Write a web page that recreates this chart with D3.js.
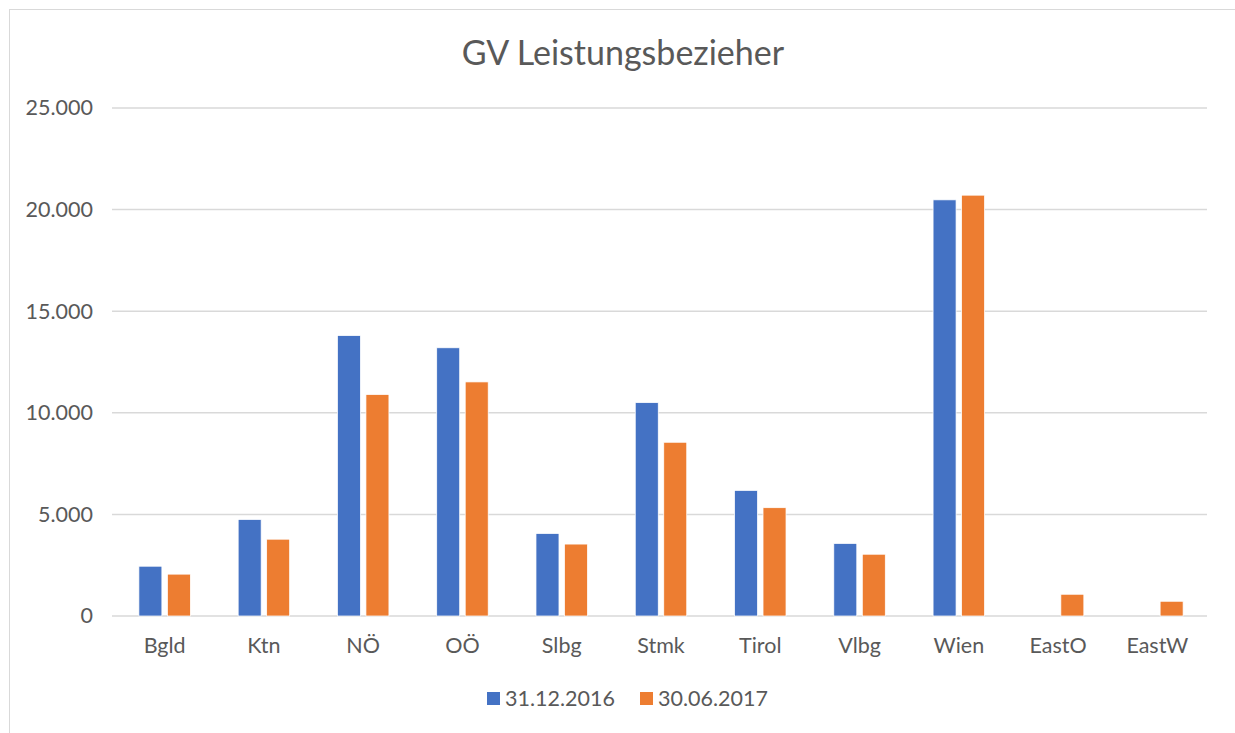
<!DOCTYPE html>
<html>
<head>
<meta charset="utf-8">
<script src="https://cdn.jsdelivr.net/npm/d3@7"></script>
<style>
  html, body { margin: 0; padding: 0; background: #fff; }
  svg { display: block; }
</style>
</head>
<body>
<script>
const categories = ["Bgld", "Ktn", "NÖ", "OÖ", "Slbg", "Stmk", "Tirol", "Vlbg", "Wien", "EastO", "EastW"];
const seriesNames = ["31.12.2016", "30.06.2017"];
const values2016 = [2450, 4750, 13800, 13200, 4060, 10500, 6180, 3570, 20480, null, null];
const values2017 = [2060, 3780, 10900, 11520, 3540, 8550, 5330, 3040, 20710, 1070, 725];
const yTicks = [0, 5000, 10000, 15000, 20000, 25000];
const colors = ["#4472C4", "#ED7D31"];
const titleText = "GV Leistungsbezieher";

const W = 1235, H = 733;
const margin = { left: 115, right: 28, top: 108, bottom: 117 };
const plotW = W - margin.left - margin.right;
const plotH = H - margin.top - margin.bottom;
const font = "Lato, 'Open Sans', sans-serif";
const textColor = "#595959";
const labelSize = 21.5;

const svg = d3.select("body").append("svg").attr("width", W).attr("height", H);

// chart border
svg.append("rect").attr("x", 9.5).attr("y", 9.5).attr("width", W).attr("height", H)
  .attr("fill", "none").attr("stroke", "#d9d9d9").attr("stroke-width", 1);

svg.append("text").attr("x", 623).attr("y", 65).attr("text-anchor", "middle")
  .attr("font-family", font).attr("font-size", 34).attr("fill", textColor).text(titleText);

const g = svg.append("g").attr("transform", `translate(${margin.left},${margin.top})`);

const x = d3.scaleBand().domain(categories).range([0, plotW]).paddingInner(0).paddingOuter(0);
const y = d3.scaleLinear().domain([0, 25000]).range([plotH, 0]);
const barW = 23, gap = 5.5;

// gridlines
g.append("g").selectAll("line").data(yTicks).join("line")
  .attr("x1", -3).attr("x2", plotW)
  .attr("y1", d => y(d)).attr("y2", d => y(d))
  .attr("stroke", "#d9d9d9").attr("stroke-width", 1.5);

const fmt = d => d === 0 ? "0" : d3.format(",")(d).replace(/,/g, ".");
const yAxis = d3.axisLeft(y).tickValues(yTicks).tickFormat(fmt).tickSize(0).tickPadding(22);
const ya = g.append("g").call(yAxis);
ya.select(".domain").remove();
ya.selectAll("text").attr("font-family", font).attr("font-size", labelSize).attr("fill", textColor);

const xAxis = d3.axisBottom(x).tickSize(0).tickPadding(22);
const xa = g.append("g").attr("transform", `translate(0,${plotH})`).call(xAxis);
xa.select(".domain").remove();
xa.selectAll("text").attr("font-family", font).attr("font-size", labelSize).attr("fill", textColor);

const series = [values2016, values2017];
series.forEach((vals, si) => {
  g.append("g").selectAll("rect").data(categories.map((c, i) => ({ c, v: vals[i] })).filter(d => d.v != null))
    .join("rect")
    .attr("x", d => x(d.c) + x.bandwidth() / 2 + (si === 0 ? -(barW + gap / 2) : gap / 2))
    .attr("width", barW)
    .attr("y", d => y(d.v))
    .attr("height", d => y(0) - y(d.v))
    .attr("fill", colors[si])
    .attr("stroke", "#fff").attr("stroke-width", 0.75);
});

// legend
const legend = svg.append("g");
const legendItems = [{ x: 487 }, { x: 640 }];
seriesNames.forEach((n, i) => {
  const lg = legend.append("g").attr("transform", `translate(${legendItems[i].x},692)`);
  lg.append("rect").attr("width", 13).attr("height", 13).attr("fill", colors[i]);
  lg.append("text").attr("x", 18).attr("y", 14).attr("font-family", font).attr("font-size", labelSize)
    .attr("fill", textColor).text(n);
});
</script>
</body>
</html>
